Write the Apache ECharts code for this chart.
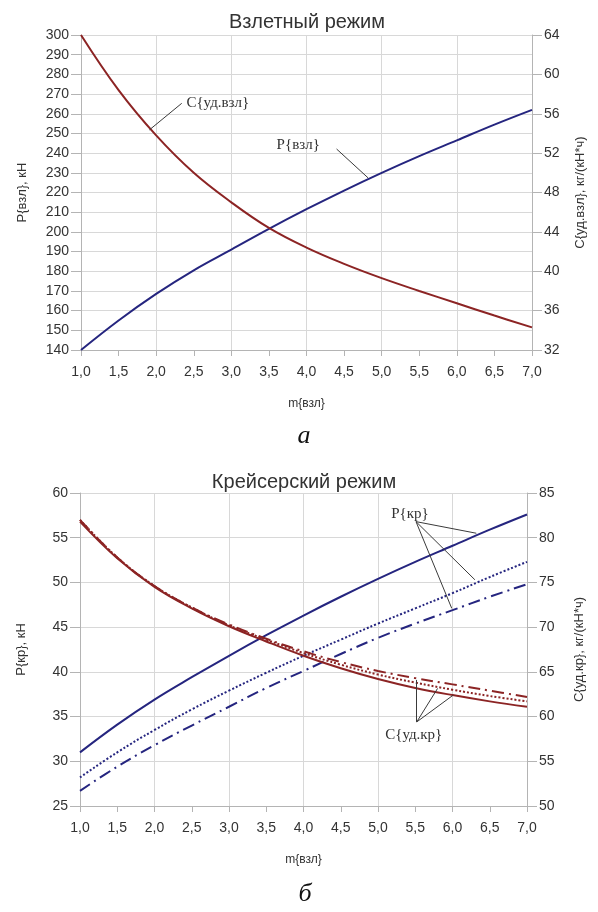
<!DOCTYPE html>
<html>
<head>
<meta charset="utf-8">
<script src="https://cdn.jsdelivr.net/npm/echarts@6/dist/echarts.min.js"></script>
<style>
  html, body { margin: 0; padding: 0; background: #fff; }
  #chart { width: 598px; height: 912px; }
</style>
</head>
<body>
<div id="chart"></div>
<script>
// m{взл} - общая ось X
const mVzl = [1.0, 1.5, 2.0, 2.5, 3.0, 3.5, 4.0, 4.5, 5.0, 5.5, 6.0, 6.5, 7.0];

// взлетный режим
const pVzl = [140, 155, 168.5, 180.5, 191, 201.5, 211.5, 221, 230, 238.5, 246.5, 254.5, 262];
const cUdVzl = [64.0, 58.4, 53.8, 50.0, 47.0, 44.4, 42.4, 40.75, 39.3, 38.0, 36.75, 35.5, 34.3];

// крейсерский режим (сплошная, пунктир, штрих-пунктир)
const pKr1 = [31.0, 34.1, 36.9, 39.4, 41.8, 44.1, 46.3, 48.4, 50.4, 52.3, 54.1, 55.9, 57.6];
const pKr2 = [28.2, 31.0, 33.5, 35.8, 37.9, 39.9, 41.8, 43.6, 45.4, 47.1, 48.8, 50.6, 52.3];
const pKr3 = [26.7, 29.4, 31.8, 34.0, 36.1, 38.2, 40.1, 42.0, 43.8, 45.4, 46.9, 48.4, 49.8];
const cKr1 = [81.8, 77.7, 74.5, 72.1, 70.1, 68.4, 66.8, 65.4, 64.2, 63.2, 62.4, 61.7, 61.1];
const cKr2 = [82.0, 77.8, 74.6, 72.2, 70.2, 68.6, 67.1, 65.8, 64.7, 63.8, 63.0, 62.3, 61.7];
const cKr3 = [82.0, 77.8, 74.6, 72.2, 70.3, 68.7, 67.3, 66.1, 65.1, 64.3, 63.6, 62.9, 62.2];

const chart = echarts.init(document.getElementById('chart'))

const axisGray = '#b4b4b4'
const gridGray = '#d8d8d8'
const blue = '#25257f'
const red = '#8c2424'
const sans = 'Liberation Sans, Arial, sans-serif'
const serif = 'Liberation Serif, Times New Roman, serif'
const tickFont = { color: '#333', fontSize: 14, fontFamily: sans }

const pairs = (ys) => mVzl.map((m, i) => [m, ys[i]])

// основная ось X (подписи через 0,5)
function xMain(gridIndex) {
  return {
    type: 'value', gridIndex, min: 1, max: 7, interval: 0.5, position: 'bottom',
    name: 'm{взл}', nameLocation: 'middle', nameGap: 48,
    nameTextStyle: { color: '#333', fontSize: 12, fontFamily: sans },
    axisLine: { show: true, onZero: false, lineStyle: { color: axisGray } },
    axisTick: { show: true, length: 6, lineStyle: { color: axisGray } },
    axisLabel: { ...tickFont, margin: 15, formatter: (v) => v.toFixed(1).replace('.', ',') },
    splitLine: { show: false },
  }
}
// вторая ось X - только вертикальная сетка через 1
function xGrid(gridIndex) {
  return {
    type: 'value', gridIndex, min: 1, max: 7, interval: 1, position: 'top',
    axisLine: { show: false }, axisTick: { show: false }, axisLabel: { show: false },
    splitLine: { show: true, lineStyle: { color: gridGray } },
  }
}
function yAxis(gridIndex, pos, min, max, interval, name, split, gap) {
  return {
    type: 'value', gridIndex, position: pos, min, max, interval,
    name, nameLocation: 'middle', nameGap: gap, nameRotate: 90,
    nameTextStyle: { color: '#333', fontSize: 13, fontFamily: sans },
    axisLine: { show: true, lineStyle: { color: axisGray } },
    axisTick: { show: true, length: 10, lineStyle: { color: axisGray } },
    axisLabel: { ...tickFont, margin: 12 },
    splitLine: { show: split, lineStyle: { color: gridGray } },
  }
}

function line(name, ys, xi, yi, color, type) {
  return {
    name, type: 'line', xAxisIndex: xi, yAxisIndex: yi, data: pairs(ys),
    smooth: 0.4, showSymbol: false, symbol: 'none',
    lineStyle: { color, width: 2, type: type || 'solid' },
  }
}

// выноски: координаты в единицах осей (m, P)
function markers(texts, leaders) {
  return {
    markLine: {
      silent: true, symbol: ['none', 'none'], label: { show: false },
      lineStyle: { color: '#3a3a3a', width: 1, type: 'solid' },
      emphasis: { disabled: true },
      data: leaders.map((l) => [{ coord: l[0] }, { coord: l[1] }]),
    },
    markPoint: {
      silent: true, symbol: 'rect', symbolSize: 1,
      itemStyle: { color: 'rgba(0,0,0,0)' },
      label: { show: true, position: 'inside', color: '#333', fontSize: 15, fontFamily: serif, formatter: (p) => p.name },
      data: texts.map((t) => ({ name: t[0], coord: t[1] })),
    },
  }
}

const pVzlSeries = line('P{взл}', pVzl, 0, 0, blue)
Object.assign(pVzlSeries, markers(
  [['C{уд.взл}', [2.82, 265.5]], ['P{взл}', [3.89, 244.2]]],
  [[[2.34, 265.3], [1.91, 251.8]], [[4.40, 242.1], [4.82, 227.4]]]
))

const pKr1Series = line('P{кр}', pKr1, 2, 2, blue)
Object.assign(pKr1Series, markers(
  [['P{кр}', [5.43, 57.7]], ['C{уд.кр}', [5.48, 32.9]]],
  [
    [[5.51, 56.8], [6.32, 55.5]], [[5.51, 56.8], [6.30, 50.3]], [[5.51, 56.8], [5.99, 47.1]],
    [[5.52, 34.4], [5.52, 39.1]], [[5.52, 34.4], [5.80, 38.15]], [[5.52, 34.4], [6.01, 37.4]],
  ]
))

const option = {
  animation: false,
  grid: [
    { left: 81, right: 66, top: 35, height: 315 },
    { left: 80, right: 71, top: 493, height: 313 },
  ],
  xAxis: [xMain(0), xGrid(0), xMain(1), xGrid(1)],
  yAxis: [
    yAxis(0, 'left', 140, 300, 10, 'P{взл}, кН', true, 52),
    yAxis(0, 'right', 32, 64, 4, 'C{уд.взл}, кг/(кН*ч)', false, 42),
    yAxis(1, 'left', 25, 60, 5, 'P{кр}, кН', true, 52),
    yAxis(1, 'right', 50, 85, 5, 'C{уд.кр}, кг/(кН*ч)', false, 46),
  ],
  graphic: [
    { type: 'text', x: 307, y: 22, style: { text: 'Взлетный режим', fill: '#333', font: '20px ' + sans, align: 'center', verticalAlign: 'middle' } },
    { type: 'text', x: 304, y: 482, style: { text: 'Крейсерский режим', fill: '#333', font: '20px ' + sans, align: 'center', verticalAlign: 'middle' } },
    { type: 'text', x: 304, y: 436, style: { text: 'а', fill: '#111', font: 'italic 26px ' + serif, align: 'center', verticalAlign: 'middle' } },
    { type: 'text', x: 305, y: 894, style: { text: 'б', fill: '#111', font: 'italic 26px ' + serif, align: 'center', verticalAlign: 'middle' } },
  ],
  series: [
    pVzlSeries,
    line('C{уд.взл}', cUdVzl, 0, 1, red),
    pKr1Series,
    line('P{кр} 2', pKr2, 2, 2, blue, [2, 2]),
    line('P{кр} 3', pKr3, 2, 2, blue, [12, 5, 2, 5]),
    line('C{уд.кр} 1', cKr1, 2, 3, red),
    line('C{уд.кр} 2', cKr2, 2, 3, red, [2, 2]),
    line('C{уд.кр} 3', cKr3, 2, 3, red, [12, 5, 2, 5]),
  ],
}

chart.setOption(option)
</script>
</body>
</html>
